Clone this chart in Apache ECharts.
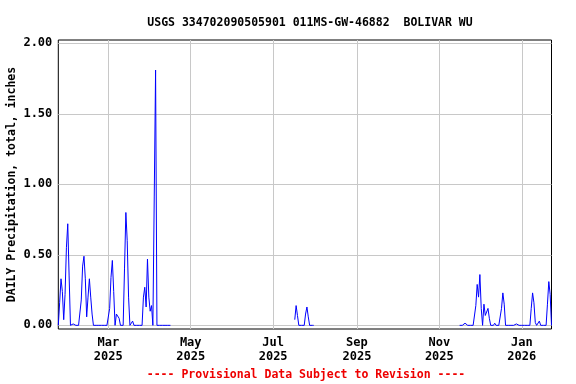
<!DOCTYPE html>
<html>
<head>
<meta charset="utf-8">
<script src="https://cdn.jsdelivr.net/npm/echarts@6/dist/echarts.min.js"></script>
<style>
html,body{margin:0;padding:0;background:#fff;}
#chart{width:576px;height:384px;}
</style>
</head>
<body>
<div id="chart"></div>
<script>
// ---- data (daily precipitation, inches) ----
const titleText = 'USGS 334702090505901 011MS-GW-46882  BOLIVAR WU';
const yAxisName = 'DAILY Precipitation, total, inches';
const footerText = '---- Provisional Data Subject to Revision ----';

const seg1Start = '2025-01-23';
const seg1Values = [
  0, 0.16, 0.33, 0.24, 0.04, 0.22, 0.55, 0.72, 0.35, 0,
  0, 0.01, 0, 0, 0, 0, 0, 0.18, 0.42, 0.49,
  0.33, 0.06, 0.2, 0.33, 0.2, 0.08, 0, 0.01, 0, 0,
  0, 0.01, 0, 0, 0, 0, 0, 0, 0.12, 0.34,
  0.46, 0.24, 0, 0.08, 0.08, 0.05, 0, 0, 0, 0.4,
  0.8, 0.6, 0.2, 0, 0, 0.03, 0, 0, 0, 0,
  0, 0, 0, 0.2, 0.27, 0.13, 0.47, 0.2, 0.1, 0.14,
  0, 0.91, 1.81, 0, 0, 0, 0, 0, 0, 0,
  0, 0, 0, 0
];
const seg2Start = '2025-07-17';
const seg2Values = [0.04, 0.14, 0.07, 0, 0, 0, 0, 0, 0.08, 0.13, 0.06, 0, 0, 0, 0];
const seg3Start = '2025-11-16';
const seg3Values = [
  0, 0, 0, 0.01, 0.015, 0.01, 0, 0, 0, 0,
  0, 0, 0.14, 0.29, 0.2, 0.36, 0.12, 0, 0.15, 0.07,
  0.06, 0.12, 0.05, 0, 0, 0, 0.015, 0, 0, 0,
  0.01, 0.12, 0.23, 0.15, 0, 0, 0, 0, 0, 0,
  0, 0, 0.01, 0, 0, 0, 0, 0.01, 0, 0,
  0, 0, 0, 0.12, 0.23, 0.16, 0.02, 0, 0.01, 0.03,
  0, 0, 0, 0, 0, 0.15, 0.31, 0.22, 0
];

const xMinDate = '2025-01-23';
const xMaxDate = '2026-01-23';
const xTickDates = ['2025-03-01', '2025-05-01', '2025-07-01', '2025-09-01', '2025-11-01', '2026-01-01'];
const yTickValues = [0, 0.5, 1, 1.5, 2];
const yMin = -0.026, yMax = 2.023;
const monthNames = ['Jan','Feb','Mar','Apr','May','Jun','Jul','Aug','Sep','Oct','Nov','Dec'];

// ---- build ----
function ts(s){ const p = s.split('-').map(Number); return Date.UTC(p[0], p[1]-1, p[2]); }
const DAY = 86400000;
function segData(start, vals){
  const t0 = ts(start);
  return vals.map((v, i) => [t0 + i*DAY, v]);
}
const data = [].concat(
  segData(seg1Start, seg1Values), [[ts(seg1Start) + seg1Values.length*DAY, null]],
  segData(seg2Start, seg2Values), [[ts(seg2Start) + seg2Values.length*DAY, null]],
  segData(seg3Start, seg3Values)
);

const FONT = '"DejaVu Sans Mono", "Liberation Mono", monospace';
const chart = echarts.init(document.getElementById('chart'), null, {renderer: 'canvas'});
chart.setOption({
  animation: false,
  backgroundColor: '#ffffff',
  title: {
    text: titleText,
    left: 305, top: 12, textAlign: 'center',
    textStyle: {fontFamily: FONT, fontWeight: 'bold', fontSize: 11.5, color: '#000'}
  },
  graphic: [{
    type: 'text', x: 306, y: 369,
    style: {text: footerText, fill: '#ee0000', font: 'bold 11.5px ' + FONT, align: 'center'}
  }],
  grid: {left: 58.3, right: 24.5, top: 40, bottom: 55, show: true, borderColor: '#000', borderWidth: 1,
         backgroundColor: 'transparent', containLabel: false, outerBoundsMode: 'none'},
  xAxis: {
    type: 'value',
    min: ts(xMinDate), max: ts(xMaxDate),
    axisLine: {show: false},
    axisTick: {show: false, customValues: xTickDates.map(ts)},
    splitLine: {show: true, lineStyle: {color: '#c8c8c8', width: 1}},
    axisLabel: {
      customValues: xTickDates.map(ts),
      margin: 7,
      fontFamily: FONT, fontWeight: 'bold', fontSize: 12, color: '#000', lineHeight: 14,
      formatter: function(v){ const d = new Date(v); return monthNames[d.getUTCMonth()] + '\n' + d.getUTCFullYear(); }
    }
  },
  yAxis: {
    type: 'value',
    min: yMin, max: yMax,
    name: yAxisName, nameLocation: 'middle', nameGap: 40, nameMoveOverlap: false,
    nameTextStyle: {fontFamily: FONT, fontWeight: 'bold', fontSize: 11.5, color: '#000'},
    axisLine: {show: false},
    axisTick: {show: false, customValues: yTickValues},
    splitLine: {show: true, lineStyle: {color: '#c8c8c8', width: 1}},
    axisLabel: {
      customValues: yTickValues,
      margin: 6,
      fontFamily: FONT, fontWeight: 'bold', fontSize: 12, color: '#000',
      formatter: function(v){ return v.toFixed(2); }
    }
  },
  series: [{
    type: 'line',
    data: data,
    showSymbol: false,
    connectNulls: false,
    lineStyle: {color: '#0000ff', width: 1},
    itemStyle: {color: '#0000ff'},
    clip: true
  }]
});
</script>
</body>
</html>
